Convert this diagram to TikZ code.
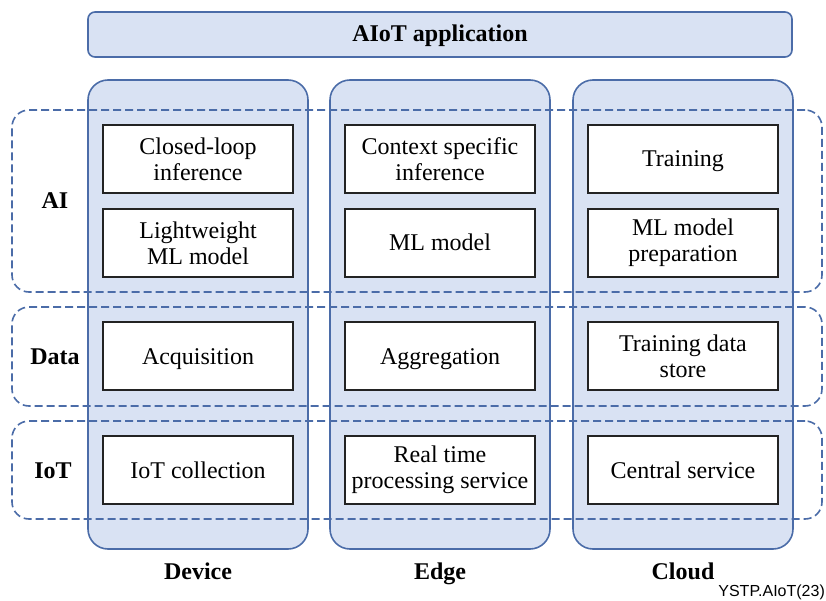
\documentclass[tikz,border=0pt]{standalone}
\usepackage{fontspec}
\setmainfont{Liberation Serif}
\newfontfamily\labelsans{Liberation Sans}
\definecolor{laneFill}{RGB}{217,226,243}
\definecolor{laneEdge}{RGB}{75,108,168}
\definecolor{boxEdge}{RGB}{35,35,35}
\tikzset{
  lane/.style={draw=laneEdge, fill=laneFill, line width=1.6pt, rounded corners=20pt,
    minimum width=220pt, minimum height=469pt, inner sep=0pt},
  topbar/.style={draw=laneEdge, fill=laneFill, line width=1.6pt, rounded corners=7pt,
    minimum width=704pt, minimum height=45pt, inner sep=0pt},
  layer/.style={draw=laneEdge, line width=1.6pt, dash pattern=on 8pt off 4pt,
    rounded corners=17pt, minimum width=810pt, inner sep=0pt},
  func/.style={draw=boxEdge, fill=white, line width=1.8pt, minimum width=190pt,
    minimum height=68pt, inner sep=0pt, align=center,
    font=\fontsize{24}{26}\selectfont},
  oneline/.style={text height=16pt, text depth=0pt},
  tag/.style={font=\fontsize{24}{26}\selectfont\bfseries, inner sep=0pt}
}
\begin{document}
\begin{tikzpicture}[x=1pt,y=-1pt]
\useasboundingbox (0,0) rectangle (826,601);

% application bar
\node[topbar] (app) at (440,34.5) {};
\node[tag, anchor=base] (apptitle) at (440,42) {AIoT application};

% deployment tiers
\node[lane] (device) at (198,314.5) {};
\node[lane] (edge)   at (440,314.5) {};
\node[lane] (cloud)  at (683,314.5) {};

% functional layers
\node[layer, minimum height=182pt] (ai)   at (417,201)   {};
\node[layer, minimum height=99pt]  (data) at (417,356.5) {};
\node[layer, minimum height=98pt]  (iot)  at (417,470)   {};

% layer names
\node[tag, anchor=base] (tagai)   at (55,209) {AI};
\node[tag, anchor=base] (tagdata) at (55,364) {Data};
\node[tag, anchor=base] (tagiot)  at (53,478) {IoT};

% device functions
\node[func] (d1) at (198,159) {Closed-loop\\inference};
\node[func] (d2) at (198,243) {Lightweight\\ML model};
\node[func, oneline] (d3) at (198,356) {Acquisition};
\node[func, oneline] (d4) at (198,470) {IoT collection};

% edge functions
\node[func] (e1) at (440,159) {Context specific\\inference};
\node[func, oneline] (e2) at (440,243) {ML model};
\node[func, oneline] (e3) at (440,356) {Aggregation};
\node[func] (e4) at (440,470) {Real time\\processing service};

% cloud functions
\node[func, oneline] (c1) at (683,159) {Training};
\node[func] (c2) at (683,243) {ML model\\preparation};
\node[func] (c3) at (683,356) {Training data\\store};
\node[func, oneline] (c4) at (683,470) {Central service};

% tier names
\node[tag, anchor=base] (tagdevice) at (198,579) {Device};
\node[tag, anchor=base] (tagedge)   at (440,579) {Edge};
\node[tag, anchor=base] (tagcloud)  at (683,579) {Cloud};

% figure reference
\node[anchor=east, inner sep=0pt, font=\labelsans\fontsize{16}{18}\selectfont] (ref) at (825,592) {YSTP.AIoT(23)};
\end{tikzpicture}
\end{document}
